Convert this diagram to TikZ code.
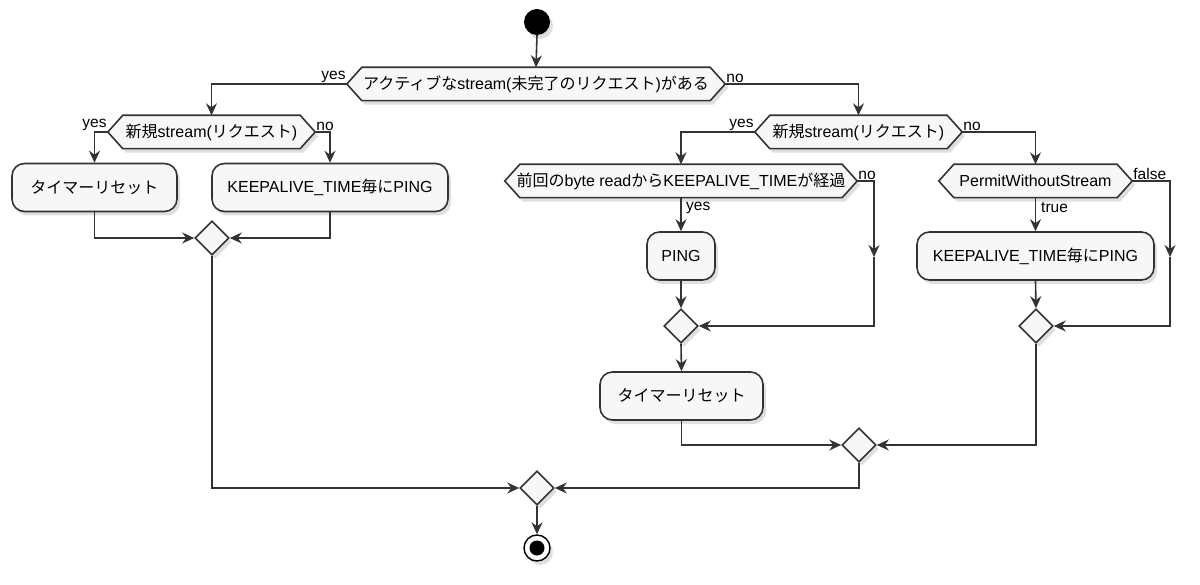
\documentclass[tikz,border=0pt]{standalone}
\usepackage{fontspec}
\setmainfont{Liberation Sans}
\newfontfamily\jp{Noto Sans CJK JP}
\usetikzlibrary{arrows.meta,shadows,shapes.geometric}
\pgfdeclarelayer{bg}
\pgfsetlayers{bg,main}
\definecolor{fillc}{HTML}{F7F7F7}
\definecolor{linec}{HTML}{333333}
\tikzset{
  shad/.style={drop shadow={opacity=0.25,shadow xshift=3pt,shadow yshift=-4pt}},
  flow/.style={draw=linec, line width=1.6pt, -{Stealth[length=12pt,width=11pt,inset=4pt]}},
  actbox/.style={draw=linec, fill=fillc, line width=1.6pt, rounded corners=12.5pt, inner sep=0pt,
    minimum height=48, font=\fontsize{16}{19}\selectfont, shad},
  hextext/.style={inner sep=0pt, minimum height=33, font=\fontsize{16}{19}\selectfont},
  hexshape/.style={draw=linec, fill=fillc, line width=1.6pt, shad},
  merge/.style={diamond, aspect=1, draw=linec, fill=fillc, line width=1.6pt, inner sep=0pt,
    minimum width=34, minimum height=34, shad},
  lbl/.style={font=\fontsize{15.5}{18}\selectfont, inner sep=1pt, text=black}
}
\newcommand\hexdec[5]{%
  \node[hextext, minimum width={2*#4}] (#1) at (#2,#3) {#5};
  \begin{pgfonlayer}{bg}
    \path[hexshape] (#1.west) -- ([xshift=15pt]#1.north west) -- ([xshift=-15pt]#1.north east)
      -- (#1.east) -- ([xshift=-15pt]#1.south east) -- ([xshift=15pt]#1.south west) -- cycle;
  \end{pgfonlayer}}
\begin{document}
\begin{tikzpicture}[x=1pt,y=-1pt]
\useasboundingbox (0,0) rectangle (1200,585);
% start
\node[circle, fill=black, minimum size=26, inner sep=0pt, shad] (start) at (537,22) {};
% decisions
\hexdec{d0}{536}{84}{189}{{\jp アクティブな}stream({\jp 未完了のリクエスト}){\jp がある}}
\hexdec{dL}{211.5}{132}{103.5}{{\jp 新規}stream({\jp リクエスト})}
\hexdec{dR}{858.5}{132}{103.5}{{\jp 新規}stream({\jp リクエスト})}
\hexdec{dB}{681}{181}{176}{{\jp 前回の}byte read{\jp から}KEEPALIVE\_TIME{\jp が経過}}
\hexdec{dP}{1035.5}{181}{96.5}{PermitWithoutStream}
% actions
\node[actbox, minimum width=165] (bL1) at (94.5,187.5) {\jp タイマーリセット};
\node[actbox, minimum width=236] (bL2) at (330,187.5) {KEEPALIVE\_TIME{\jp 毎に}PING};
\node[actbox, minimum width=68] (ping) at (681,256) {PING};
\node[actbox, minimum width=237] (bR) at (1035.5,256) {KEEPALIVE\_TIME{\jp 毎に}PING};
\node[actbox, minimum width=163] (bT2) at (681.5,396) {\jp タイマーリセット};
% merges
\node[merge] (mL) at (212,238) {};
\node[merge] (mB) at (681,326) {};
\node[merge] (mP) at (1036,326) {};
\node[merge] (mR) at (859,445) {};
\node[merge] (mF) at (537,488) {};
% end
\node[circle, draw=black, fill=white, line width=1.4pt, minimum size=26, inner sep=0pt, shad] (end) at (537,548) {};
\node[circle, fill=black, minimum size=15, inner sep=0pt] (endin) at (537,548) {};
% mid-arrow coordinates
\coordinate (nB) at (874,257);
\coordinate (nP) at (1170,257);
% connectors
\draw[flow] (start.south) -- (d0.north);
\draw[flow] (d0.west) -| (dL.north);
\draw[flow] (d0.east) -| (dR.north);
\draw[flow] (dL.west) -| (bL1.north);
\draw[flow] (dL.east) -| (bL2.north);
\draw[flow] (bL1.south) |- (mL.west);
\draw[flow] (bL2.south) |- (mL.east);
\draw[flow] (mL.south) |- (mF.west);
\draw[flow] (dR.west) -| (dB.north);
\draw[flow] (dR.east) -| (dP.north);
\draw[flow] (dB.south) -- (ping.north);
\draw[flow] (dB.east) -| (nB);
\draw[flow] (nB) |- (mB.east);
\draw[flow] (ping.south) -- (mB.north);
\draw[flow] (mB.south) -- (bT2.north);
\draw[flow] (dP.south) -- (bR.north);
\draw[flow] (dP.east) -| (nP);
\draw[flow] (nP) |- (mP.east);
\draw[flow] (bR.south) -- (mP.north);
\draw[flow] (bT2.south) |- (mR.west);
\draw[flow] (mP.south) |- (mR.east);
\draw[flow] (mR.south) |- (mF.east);
\draw[flow] (mF.south) -- (end.north);
% labels
\node[lbl, anchor=south east] (ly0) at (d0.west) {yes};
\node[lbl, anchor=south west] (ln0) at (d0.east) {no};
\node[lbl, anchor=south east] (lyL) at (dL.west) {yes};
\node[lbl, anchor=south west] (lnL) at (dL.east) {no};
\node[lbl, anchor=south east] (lyR) at (dR.west) {yes};
\node[lbl, anchor=south west] (lnR) at (dR.east) {no};
\node[lbl, anchor=south west] (lnB) at (dB.east) {no};
\node[lbl, anchor=west] (lyB) at (685,208) {yes};
\node[lbl, anchor=south west] (lfP) at (dP.east) {false};
\node[lbl, anchor=west] (ltP) at (1040,208) {true};
\end{tikzpicture}
\end{document}
